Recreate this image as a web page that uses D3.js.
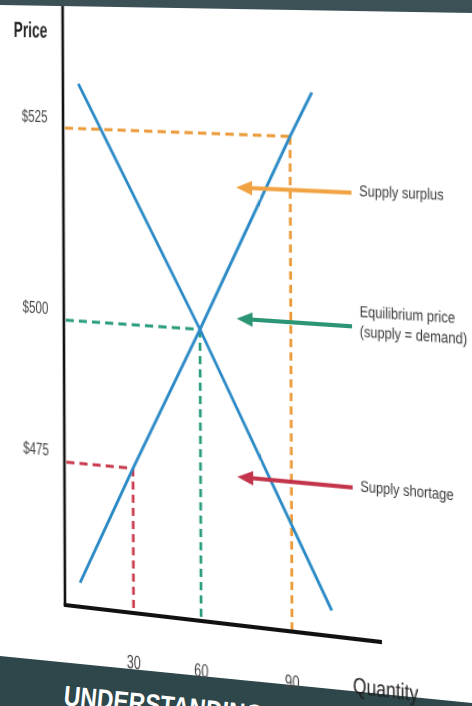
<!DOCTYPE html>
<html>
<head>
<meta charset="utf-8">
<script src="https://cdn.jsdelivr.net/npm/d3@7"></script>
<style>
  html, body { margin: 0; padding: 0; background: #fff; width: 472px; height: 706px; overflow: hidden; }
  #frame { position: absolute; left: 0; top: 0; width: 472px; height: 706px; }
  #frame svg { position: absolute; left: 0; top: 0; overflow: visible; }
  #board { position: absolute; left: 0; top: 0; width: 520px; height: 706px; transform-origin: 0 0; }
</style>
</head>
<body>
<div id="frame"></div>
<script>
// ---- chart data ----
const quantityTicks = [30, 60, 90];
const quantityLabels = ["30", "60", "90"];
const priceTicks = [475, 500, 525];
const priceLabels = ["$475", "$500", "$525"];

// supply and demand lines as (quantity, price) points
const supplyCurve = [[6.7, 454.2], [30, 475], [60, 500], [90, 525], [97.4, 530.6]];
const demandCurve = [[6.8, 530.8], [60, 500], [103.4, 454.3]];

// guide lines dropped from each price level to the supply line
const guidePrices = [475, 500, 525];
const guideQuantities = [30, 60, 90];
const guideColors = ["#c9384b", "#2a9c7e", "#eb9a37"];

// callouts on the right
const noteTexts = [["Supply shortage"], ["Equilibrium price", "(supply = demand)"], ["Supply surplus"]];
const notePrices = [475.2, 501.7, 518.3];
const noteColors = ["#c3344a", "#2b9576", "#f1a343"];

const axisMin = { quantity: 0, price: 450 };
const axisMax = { quantity: 120, price: 542 };

// ---- layout ----
const W = 472, H = 706;
const ox = 65;
const FONT = "'Liberation Sans', Arial, sans-serif";

const frame = d3.select("#frame");

// slide banners (drawn straight onto the page)
const back = frame.append("svg").attr("width", W).attr("height", H);
back.append("polygon")
  .attr("points", [[0, 656], [W, 703], [W, H], [0, H]].map(p => p.join(",")).join(" "))
  .attr("fill", "#2d474a");
back.append("text")
  .attr("transform", `translate(63,705) rotate(5.7) scale(0.82,1)`)
  .attr("font-family", FONT).attr("font-weight", 700).attr("font-size", 28)
  .attr("fill", "#ffffff")
  .text("UNDERSTANDING");

// the chart board, seen at an angle
const board = frame.append("div").attr("id", "board");
const g = -0.0001675, d = 0.0157, b = 0.004, oy = 605;
const m = [
  1 + ox * g, d, 0, g,
  b, 1, 0, 0,
  0, 0, 1, 0,
  -ox * ox * g - oy * b, -ox * d, 0, 1 - ox * g
];
board.style("transform", `matrix3d(${m.join(",")})`);

const svg = board.append("svg").attr("width", 520).attr("height", H);

const x = d3.scaleLinear()
  .domain([0, 30, 60, 90, 120])
  .range([0, 67.8, 133.1, 218.7, 301].map(v => ox + v));
const y = d3.scaleLinear()
  .domain([450, 475, 500, 525])
  .range([605, 462, 320, 128]);

function squeeze(sel, tx, ty, sx) {
  return sel.attr("transform", `translate(${tx},${ty}) scale(${sx},1)`);
}

// dashed guides
const guides = svg.append("g").attr("fill", "none").attr("stroke-width", 3).attr("stroke-dasharray", "8,5");
guidePrices.forEach((p, i) => {
  const q = guideQuantities[i];
  guides.append("line")
    .attr("x1", x(axisMin.quantity) + 2).attr("y1", y(p))
    .attr("x2", x(q)).attr("y2", y(p))
    .attr("stroke", guideColors[i]);
  guides.append("line")
    .attr("x1", x(q)).attr("y1", y(p))
    .attr("x2", x(q)).attr("y2", y(axisMin.price))
    .attr("stroke", guideColors[i]).attr("stroke-width", 2.6);
});

// supply and demand lines
const line = d3.line().x(p => x(p[0])).y(p => y(p[1]));
svg.append("g").selectAll("path")
  .data([supplyCurve, demandCurve])
  .join("path")
  .attr("d", line)
  .attr("fill", "none")
  .attr("stroke", "#2b8ac6")
  .attr("stroke-width", 2.8)
  .attr("stroke-linecap", "butt");

// axes
svg.append("line")
  .attr("x1", x(axisMin.quantity)).attr("y1", y(axisMax.price))
  .attr("x2", x(axisMin.quantity)).attr("y2", y(axisMin.price))
  .attr("stroke", "#111").attr("stroke-width", 2.6);
svg.append("line")
  .attr("x1", x(axisMin.quantity) - 1.3).attr("y1", y(axisMin.price))
  .attr("x2", x(axisMax.quantity)).attr("y2", y(axisMin.price))
  .attr("stroke", "#111").attr("stroke-width", 4);

// axis titles and tick labels
squeeze(svg.append("text"), x(0) - 15.5, 38, 0.63)
  .attr("text-anchor", "end")
  .attr("font-family", FONT).attr("font-weight", 700).attr("font-size", 22)
  .attr("fill", "#262626")
  .text("Price");

priceTicks.forEach((p, i) => {
  squeeze(svg.append("text"), x(0) - 15.5, y(p) - 5, 0.67)
    .attr("text-anchor", "end")
    .attr("font-family", FONT).attr("font-size", 17.5)
    .attr("fill", "#454545")
    .text(priceLabels[i]);
});

quantityTicks.forEach((q, i) => {
  squeeze(svg.append("text"), x(q), y(axisMin.price) + 55, 0.65)
    .attr("text-anchor", "middle")
    .attr("font-family", FONT).attr("font-size", 19)
    .attr("fill", "#454545")
    .text(quantityLabels[i]);
});

squeeze(svg.append("text"), x(axisMax.quantity) + 3, y(axisMin.price) + 52, 0.72)
  .attr("text-anchor", "middle")
  .attr("font-family", FONT).attr("font-size", 22)
  .attr("fill", "#1e1e1e")
  .text("Quantity");

// callout arrows and their text
const tipX = ox + 168, tailX = ox + 275, textX = ox + 282;
const notes = svg.append("g");
notePrices.forEach((p, i) => {
  const yy = y(p);
  notes.append("line")
    .attr("x1", tailX).attr("y1", yy)
    .attr("x2", tipX + 12).attr("y2", yy)
    .attr("stroke", noteColors[i]).attr("stroke-width", 4);
  notes.append("path")
    .attr("d", d3.line()([[tipX, yy], [tipX + 15, yy - 7], [tipX + 15, yy + 7]]) + "Z")
    .attr("fill", noteColors[i]);
  const lines = noteTexts[i];
  const base = lines.length === 1 ? yy + 3 : yy - 9.5;
  lines.forEach((t, k) => {
    squeeze(notes.append("text"), textX, base + k * 19, 0.77)
      .attr("font-family", FONT).attr("font-size", 15)
      .attr("fill", "#3a3a3a")
      .text(t);
  });
});

// top banner over the board
const front = frame.append("svg").attr("width", W).attr("height", H).style("pointer-events", "none");
front.append("polygon")
  .attr("points", [[0, 0], [W, 0], [W, 13], [0, 5]].map(p => p.join(",")).join(" "))
  .attr("fill", "#3b5156");
</script>
</body>
</html>
